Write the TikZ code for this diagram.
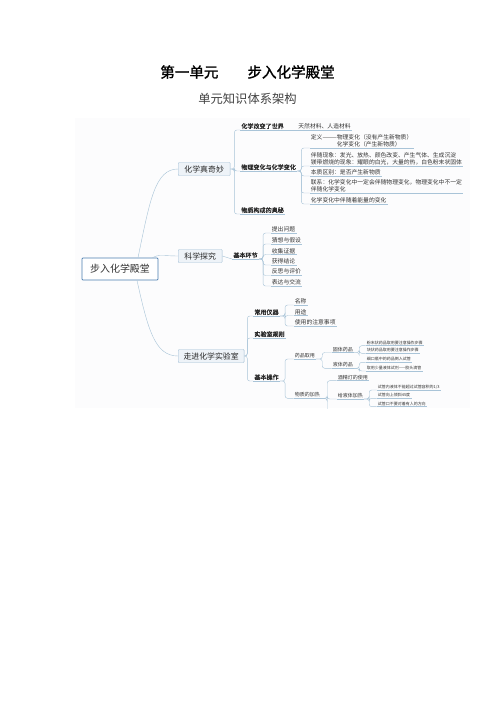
\documentclass[tikz,border=0pt]{standalone}
\usepackage{fontspec}
\setmainfont{Noto Sans CJK SC}[AutoFakeBold=1.5]
\usepackage{tikz}
\usepackage{xcolor}
\usetikzlibrary{calc}
\definecolor{linec}{HTML}{A9C4D8}
\definecolor{rootc}{HTML}{4A7DB0}
\definecolor{topicf}{HTML}{EEF3F8}
\definecolor{topicd}{HTML}{9FBDD4}
\definecolor{mapbg}{HTML}{FCFCFD}
\definecolor{textc}{HTML}{333333}

\begin{document}
\begin{tikzpicture}[x=0.4234mm, y=-0.4234mm,
	ln/.style={draw=linec, line width=0.5pt},
	elbow/.style={ln, rounded corners=3pt},
	rootbox/.style={draw=rootc, line width=0.9pt, fill=white, rounded corners=1pt, minimum width=32.2mm, minimum height=9.3mm, text=textc, font=\fontsize{12}{14}\selectfont},
	topicbox/.style={draw=topicd, fill=topicf, line width=0.5pt, rounded corners=1pt, minimum height=5.5mm, anchor=west, text=black!85, font=\fontsize{9.5}{11}\selectfont},
	subtopic/.style={anchor=south west, inner xsep=1.5pt, inner ysep=1pt, text=black!85, font=\bfseries\fontsize{7.3}{8.5}\selectfont},
	detail/.style={anchor=south west, inner xsep=1.5pt, inner ysep=1pt, align=left, text=textc, font=\fontsize{7}{8.4}\selectfont},
	minor/.style={detail, font=\fontsize{6}{7}\selectfont},
	minute/.style={detail, font=\fontsize{4.8}{5.8}\selectfont}]
	\useasboundingbox (0,0) rectangle (496,702);
	%title
	\node[font=\bfseries\fontsize{17.5}{20}\selectfont] (title) at (247.5,72) {第一单元\hspace{2em}步入化学殿堂};
	\node[text=black!75, font=\fontsize{14.8}{17}\selectfont] (subtitle) at (247.5,99) {单元知识体系架构};
	%map
	\begin{scope}
	\clip (75,118) rectangle (470,408);
	\fill[mapbg] (75,118) rectangle (470,408);
	\node[rootbox] (root) at (120,269) {步入化学殿堂};
	\node[topicbox, minimum width=22mm] (k1) at (178,169) {化学真奇妙};
	\node[topicbox, minimum width=18.6mm] (k2) at (178,256) {科学探究};
	\node[topicbox, minimum width=27.9mm] (k3) at (178,356) {走进化学实验室};
	\draw[ln] ($(root.north)+(18,0)$) .. controls (150,200) and (155,169) .. (k1.west);
	\draw[ln] ($(root.north east)+(-6,0)$) .. controls (158,254) and (165,256) .. (k2.west);
	\draw[ln] ($(root.south)+(17,0)$) .. controls (148,330) and (155,356) .. (k3.west);
	%chemistry is wonderful
	\node[subtopic] (a1) at (240,130) {化学改变了世界};
	\node[detail] (a1x) at (297,130) {天然材料、人造材料};
	\node[subtopic] (a2) at (240,171) {物理变化与化学变化};
	\node[subtopic] (a3) at (240,214) {物质构成的奥秘};
	\node[detail] (b1) at (309.5,148) {定义———物理变化（没有产生新物质）\\\hphantom{定义———}化学变化（产生新物质）};
	\node[detail] (b2) at (309.5,166) {伴随现象：发光、放热、颜色改变、产生气体、生成沉淀\\镁带燃烧的现象：耀眼的白光，大量的热，白色粉末状固体};
	\node[detail] (b3) at (309.5,176) {本质区别：是否产生新物质};
	\node[detail] (b4) at (309.5,193) {联系：化学变化中一定会伴随物理变化，物理变化中不一定\\伴随化学变化};
	\node[detail] (b5) at (309.5,204) {化学变化中伴随着能量的变化};
	\foreach \n in {a1,a2,a3}
		\draw[elbow] (k1.east) -- ++(4,0) |- (\n.south west);
	\draw[ln] (a1.south east) -- (a1x.south west);
	\foreach \n in {b1,b2,b3,b4,b5}
		\draw[elbow] (a2.south east) -- ++(4,0) |- (\n.south west);
	%inquiry
	\node[subtopic] (c0) at (232,259) {基本环节};
	\node[detail] (c1) at (270.5,233) {提出问题};
	\node[detail] (c2) at (270.5,244) {猜想与假设};
	\node[detail] (c3) at (270.5,254.5) {收集证据};
	\node[detail] (c4) at (270.5,265) {获得结论};
	\node[detail] (c5) at (270.5,275.5) {反思与评价};
	\node[detail] (c6) at (270.5,286) {表达与交流};
	\draw[ln] (k2.east) to[out=0, in=180] (c0.south west);
	\foreach \n in {c1,c2,c3,c4,c5,c6}
		\draw[elbow] (c0.south east) -- ++(4,0) |- (\n.south west);
	%laboratory
	\node[subtopic] (e1) at (253,316) {常用仪器};
	\node[subtopic] (e2) at (253,338) {实验室规则};
	\node[subtopic] (e3) at (253,381) {基本操作};
	\node[detail] (e11) at (293.5,305) {名称};
	\node[detail] (e12) at (293.5,315.5) {用途};
	\node[detail] (e13) at (293.5,326) {使用的注意事项};
	\node[minor] (f1) at (293.5,359) {药品取用};
	\node[minor] (f2) at (293.5,398.3) {物质的加热};
	\node[minor] (g1) at (331.5,352.5) {固体药品};
	\node[minor] (g2) at (331.5,368.3) {液体药品};
	\node[minute] (h1) at (365.5,345.7) {粉末状药品取用要注意操作步骤};
	\node[minute] (h2) at (365.5,353.3) {块状药品取用要注意操作步骤};
	\node[minute] (h3) at (365.5,362.3) {细口瓶中的药品倒入试管};
	\node[minute] (h4) at (365.5,371) {取用少量液体试剂——胶头滴管};
	\node[minor] (g3) at (336.5,380.7) {酒精灯的使用};
	\node[minor] (g4) at (336.5,399) {给液体加热};
	\node[minor] (g5) at (336.5,416) {给固体加热};
	\node[minute] (h5) at (376.5,390) {试管内液体不能超过试管容积的1/3};
	\node[minute] (h6) at (376.5,398.3) {试管向上倾斜45度};
	\node[minute] (h7) at (376.5,406.7) {试管口不要对着有人的方向};
	\foreach \n in {e1,e2,e3}
		\draw[elbow] (k3.east) -- ++(3,0) |- (\n.south west);
	\foreach \n in {e11,e12,e13}
		\draw[elbow] (e1.south east) -- ++(5,0) |- (\n.south west);
	\foreach \n in {f1,f2}
		\draw[elbow] (e3.south east) -- ++(5,0) |- (\n.south west);
	\foreach \n in {g1,g2}
		\draw[elbow] (f1.south east) -- ++(6,0) |- (\n.south west);
	\foreach \n in {h1,h2}
		\draw[elbow] (g1.south east) -- ++(5,0) |- (\n.south west);
	\foreach \n in {h3,h4}
		\draw[elbow] (g2.south east) -- ++(5,0) |- (\n.south west);
	\foreach \n in {g3,g4,g5}
		\draw[elbow] (f2.south east) -- ++(6,0) |- (\n.south west);
	\foreach \n in {h5,h6,h7}
		\draw[elbow] (g4.south east) -- ++(5,0) |- (\n.south west);
	%underlines
	\foreach \n in {a1,a1x,a2,a3,b1,b2,b3,b4,b5,c0,c1,c2,c3,c4,c5,c6,e1,e2,e3,e11,e12,e13,f1,f2,g1,g2,g3,g4,g5,h1,h2,h3,h4,h5,h6,h7}
		\draw[ln] (\n.south west) -- (\n.south east);
	\end{scope}
\end{tikzpicture}
\end{document}
